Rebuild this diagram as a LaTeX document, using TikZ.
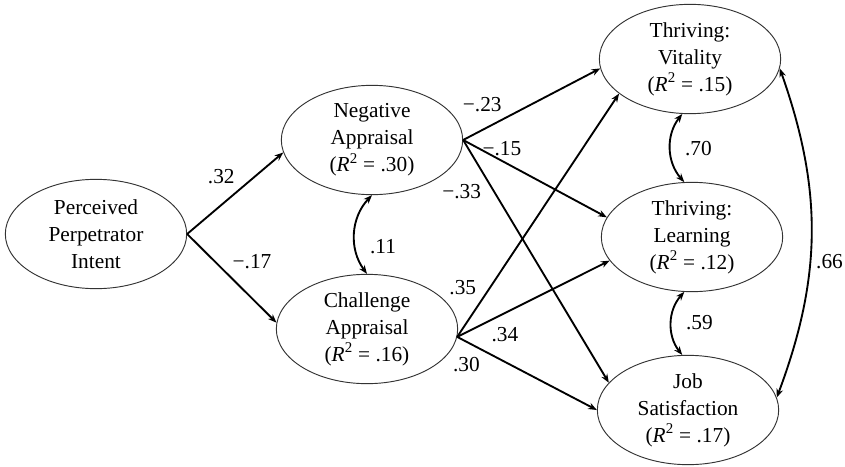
\documentclass[tikz,border=0pt]{standalone}
\usepackage{fontspec}
\setmainfont{Liberation Serif}
\usetikzlibrary{arrows.meta, shapes.geometric}

\begin{document}
\begin{tikzpicture}[x=0.75pt,y=-0.75pt,->,>={Stealth[length=6.5pt,width=5pt]},line width=1.4pt,auto,
    font=\fontsize{16}{20.3}\selectfont,
    latent/.style={ellipse,draw=black!80,line width=0.7pt,minimum width=136pt,minimum height=82pt,inner sep=0pt,align=center},
    cov/.style={<->,bend right=40}]

                \useasboundingbox (0,0) rectangle (845,467);

                \node[latent] (per) at (96,234) {Perceived\\Perpetrator\\Intent};
                \node[latent] (neg) at (372,140) {Negative\\Appraisal\\(\textit{R}\textsuperscript{2} = .30)};
                \node[latent] (cha) at (367,329) {Challenge\\Appraisal\\(\textit{R}\textsuperscript{2} = .16)};
                \node[latent] (vit) at (690,59) {Thriving:\\Vitality\\(\textit{R}\textsuperscript{2} = .15)};
                \node[latent] (lea) at (692,237) {Thriving:\\Learning\\(\textit{R}\textsuperscript{2} = .12)};
                \node[latent] (job) at (688,410) {Job\\Satisfaction\\(\textit{R}\textsuperscript{2} = .17)};

                \path
                (per.east) edge node[pos=0.55] {.32} (neg.188)
                           edge node[pos=0.45] {−.17} (cha.176)
                (neg.east) edge node[pos=0.32] {−.23} (vit.186)
                           edge node[above,pos=0.27] {−.15} (lea.167)
                           edge node[swap,pos=0.16] {−.33} (job.161)
                (cha.-5)   edge node[pos=0.15] {.35} (vit.206)
                           edge node[swap,pos=0.19] {.34} (lea.196)
                           edge node[swap,pos=0.2] {.30} (job.west)
                (neg.south) edge[cov] node[xshift=7.5pt] {.11} (cha.north)
                (vit.262)  edge[cov] node[xshift=7pt] {.70} (lea.98)
                (lea.262)  edge[cov] node[xshift=7pt] {.59} (job.96)
                (vit.-6)   edge[<->,bend left=20] node[pos=0.55] {.66} (job.8)
                ;
            \end{tikzpicture}
\end{document}
